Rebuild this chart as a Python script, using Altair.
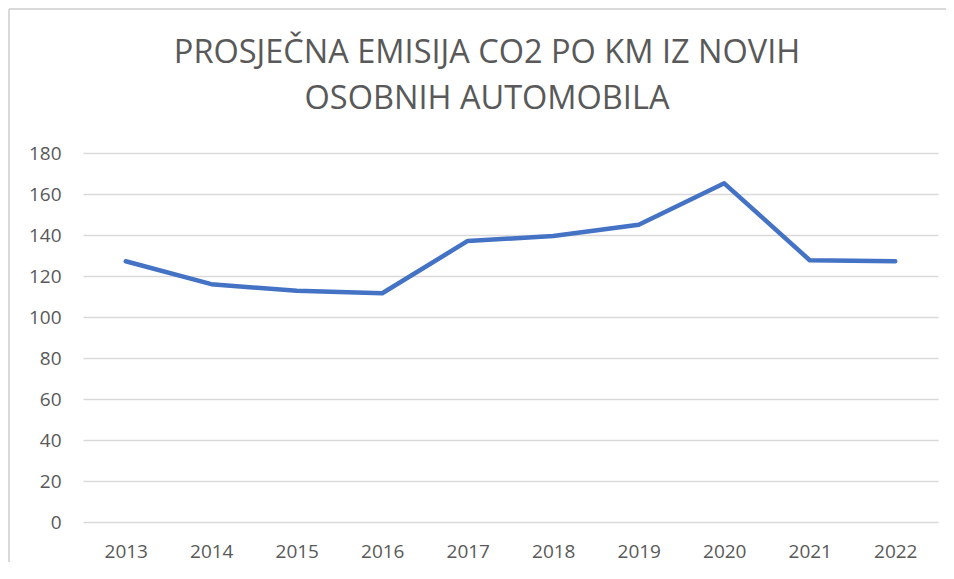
import altair as alt
import pandas as pd

years = ["2013", "2014", "2015", "2016", "2017", "2018", "2019", "2020", "2021", "2022"]
emission = [127.2, 116.0, 112.8, 111.6, 137.1, 139.5, 145.0, 165.2, 127.7, 127.2]
y_ticks = [0, 20, 40, 60, 80, 100, 120, 140, 160, 180]
title_lines = ["PROSJEČNA EMISIJA CO2 PO KM IZ NOVIH", "OSOBNIH AUTOMOBILA"]

df = pd.DataFrame({"year": years, "value": emission})
one = pd.DataFrame({"k": [0]})

FONT = "Liberation Sans Narrow, Open Sans, sans-serif"
GREY = "#595959"

base = alt.Chart(df)

line = base.mark_line(color="#4472C4", strokeWidth=4.5, strokeCap="round", strokeJoin="round").encode(
    x=alt.X("year:O", sort=years, scale=alt.Scale(paddingOuter=0.5, paddingInner=0),
            axis=alt.Axis(title=None, labelAngle=0, domain=False, ticks=False,
                          labelFontSize=19, labelColor=GREY, labelFont=FONT, labelPadding=20)),
    y=alt.Y("value:Q", scale=alt.Scale(domain=[0, 180], nice=False),
            axis=alt.Axis(title=None, values=y_ticks, domain=False, ticks=False,
                          labelFontSize=19, labelColor=GREY, labelFont=FONT, labelPadding=22,
                          grid=True, gridColor="#d9d9d9", gridWidth=1.5)),
)

title = alt.Chart(one).mark_text(
    font=FONT, fontSize=32.5, color=GREY, align="center", baseline="alphabetic", lineHeight=46
).encode(
    x=alt.value(404), y=alt.value(-90), text=alt.value(title_lines)
)

frame_left = alt.Chart(one).mark_rule(color="#d9d9d9", strokeWidth=2).encode(
    x=alt.value(-74), y=alt.value(-144), y2=alt.value(430)
)
frame_top = alt.Chart(one).mark_rule(color="#d9d9d9", strokeWidth=2).encode(
    x=alt.value(-74), x2=alt.value(880), y=alt.value(-144)
)

chart = alt.layer(frame_left, frame_top, line, title).properties(
    width=855,
    height=369,
    autosize=alt.AutoSizeParams(type="none"),
    padding={"left": 75, "top": 145, "right": 8, "bottom": 40},
).configure_view(stroke=None)

chart.save("out.html", embed_options={"renderer": "svg", "actions": False})
